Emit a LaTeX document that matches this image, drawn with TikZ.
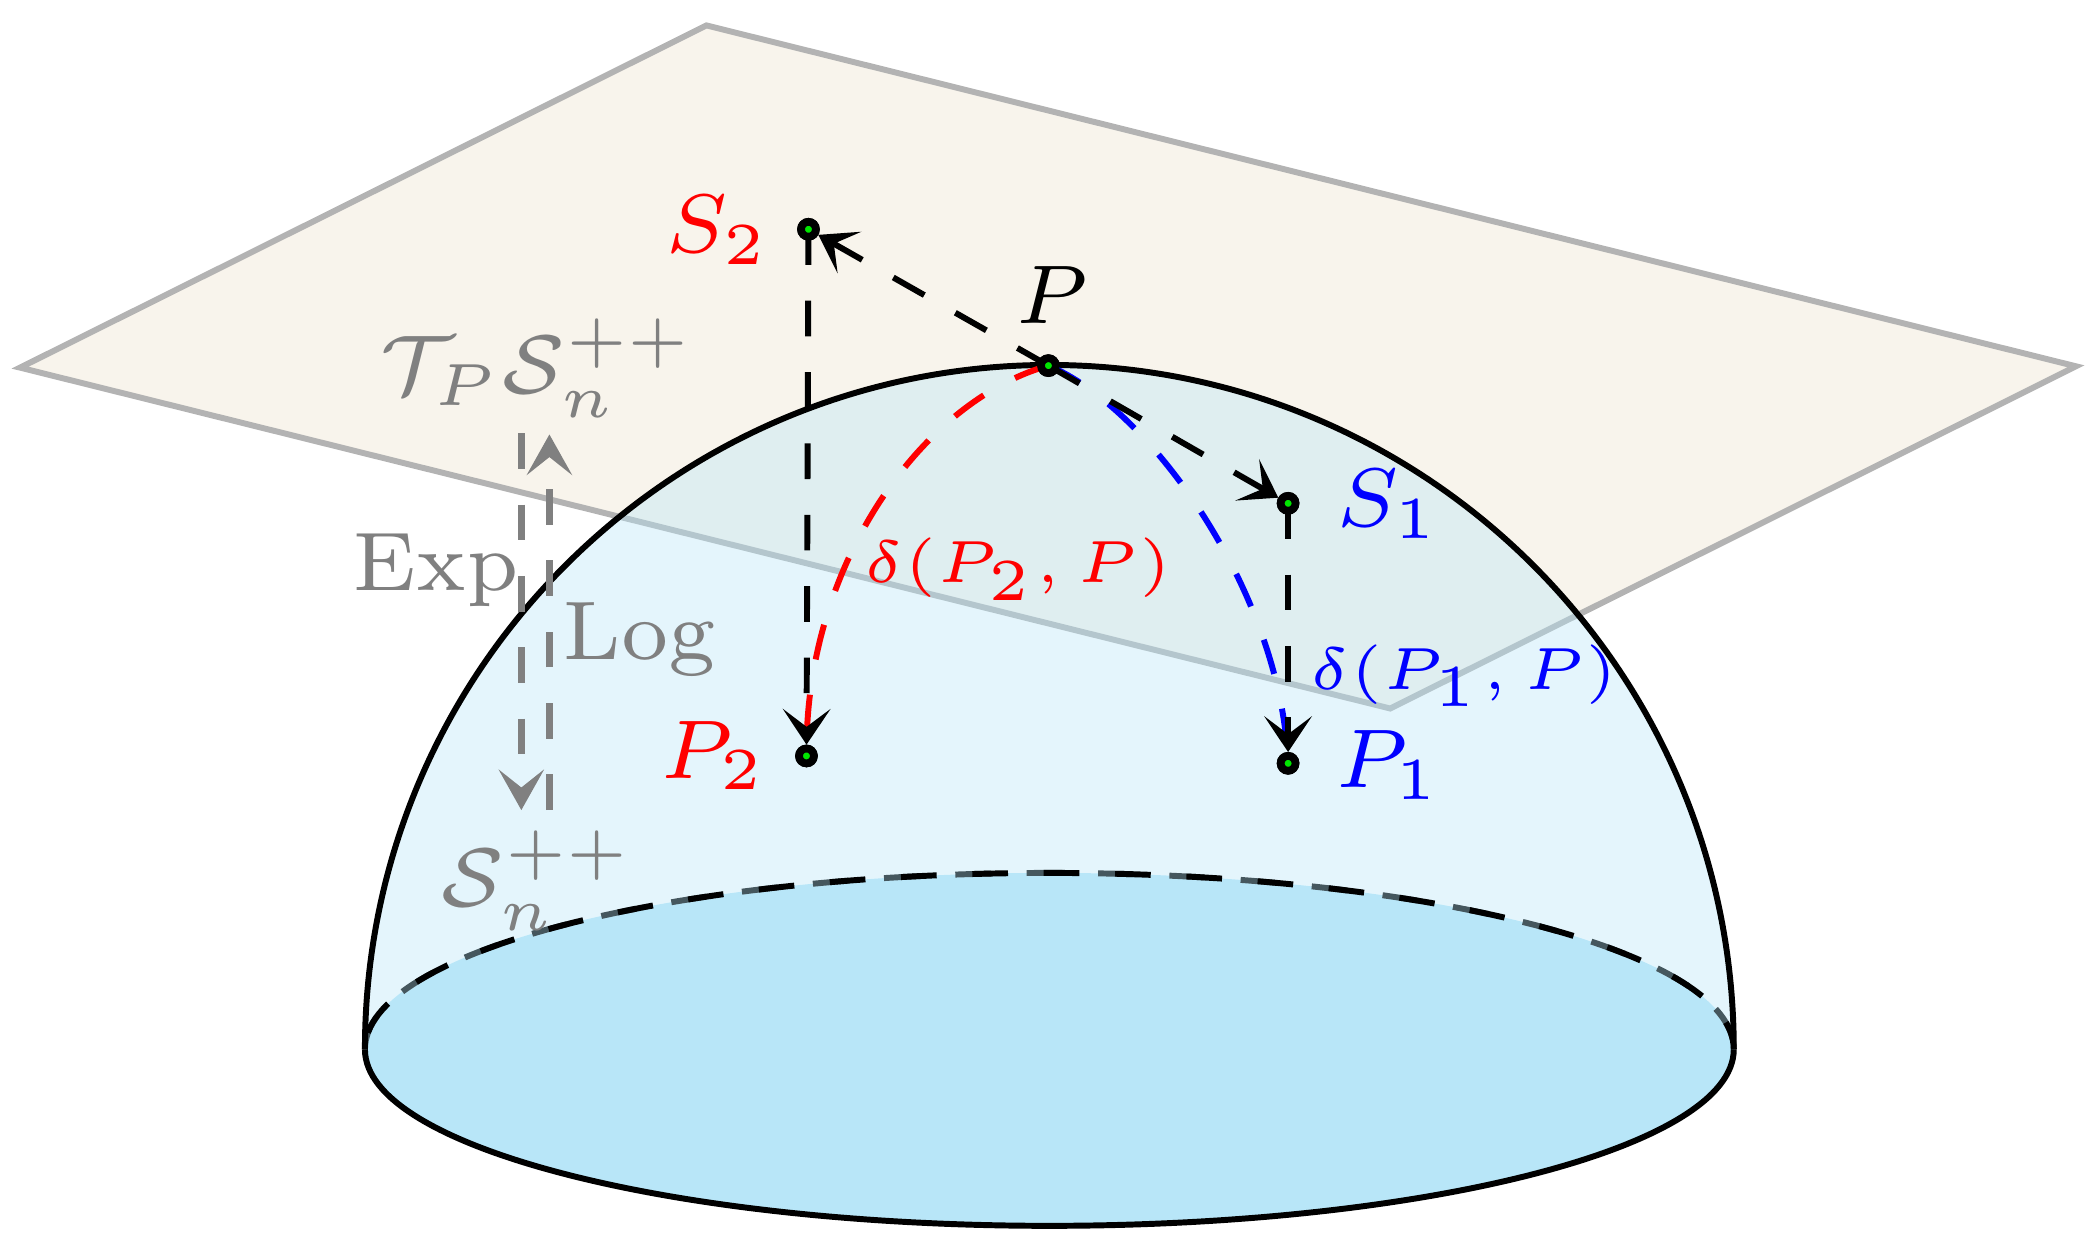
\documentclass[tikz,border=0pt]{standalone}
\usetikzlibrary{arrows.meta}
\definecolor{planefill}{HTML}{F8F4EC}
\definecolor{planeedge}{HTML}{B3B3B3}
\definecolor{domec}{HTML}{B8E6F8}
\definecolor{dotg}{RGB}{0,230,0}
\begin{document}
\begin{tikzpicture}[x=0.11236pt,y=0.11236pt,
  blkdash/.style={line width=0.5pt,dashed,black},
  reddash/.style={line width=0.5pt,dashed,red},
  bluedash/.style={line width=0.5pt,dashed,blue},
  graydash/.style={line width=0.6pt,dashed,gray},
  tipblk/.style={-{Stealth[length=3pt,width=4pt,inset=1.5pt]}},
  tipgray/.style={-{Stealth[length=3.4pt,width=3.8pt,inset=1.5pt]}},
  dotnode/.style={circle,fill=dotg,draw=black,line width=0.65pt,inner sep=0pt,minimum size=1.25pt},
  lab/.style={anchor=base west,inner sep=0pt,font=\scriptsize},
  dlab/.style={anchor=base west,inner sep=0pt,font=\tiny},
  outline/.style={line width=0.5pt,black}]
\useasboundingbox (0,-937.4) rectangle (1568,0);

% tangent plane
\filldraw[fill=planefill,draw=planeedge,line width=0.5pt,line join=miter]
  (528.5,-19) -- (1553,-274) -- (1040,-530) -- (15,-275) -- cycle;

% base ellipse
\fill[domec] (785,-785) ellipse[x radius=512,y radius=132];
\draw[outline,dashed] (273,-785) arc[start angle=180,end angle=0,x radius=512,y radius=132];

% dome (semi-transparent)
\fill[domec,opacity=0.38] (273,-785) arc[start angle=180,end angle=0,radius=512] -- cycle;
\draw[outline,dash pattern=on 3pt off 3pt,dash phase=4.57pt] (273,-785) arc[start angle=180,end angle=0,x radius=512,y radius=132];
\draw[outline] (273,-785) arc[start angle=180,end angle=360,x radius=512,y radius=132];
\draw[outline] (273,-785) arc[start angle=180,end angle=0,radius=512];

% points
\node[dotnode] (P)  at (784.3,-273.5) {};
\node[dotnode] (S2) at (604.8,-171.5) {};
\node[dotnode] (S1) at (963.6,-376.5) {};
\node[dotnode] (P2) at (603.3,-565.5) {};
\node[dotnode] (P1) at (963.6,-571) {};

% geodesics
\draw[reddash] (P.center) .. controls (690,-300) and (605,-420) .. (P2);
\draw[bluedash] (P.center) .. controls (860,-305) and (955,-440) .. (P1);

% log / projections
\draw[blkdash,tipblk] (P.center) -- (S2);
\draw[blkdash,tipblk] (P.center) -- (S1);
\draw[blkdash,tipblk] (S2.center) -- (P2);
\draw[blkdash,tipblk] (S1.center) -- (P1);

% redraw dots on top
\node[dotnode] at (P.center) {};
\node[dotnode] at (S2.center) {};
\node[dotnode] at (S1.center) {};
\node[dotnode] at (P2.center) {};
\node[dotnode] at (P1.center) {};

% Exp / Log arrows
\coordinate (e1) at (390,-324);
\coordinate (e2) at (390,-606);
\coordinate (l1) at (411,-606);
\coordinate (l2) at (411,-325);
\draw[graydash,tipgray] (e1) -- (e2);
\draw[graydash,tipgray] (l1) -- (l2);

% labels
\node[lab] (Pl) at (758,-242) {$P$};
\node[lab,text=red] (S2l) at (496,-189) {$S_2$};
\node[lab,text=blue] (S1l) at (998,-394) {$S_1$};
\node[lab,text=red] (P2l) at (492,-582) {$P_2$};
\node[lab,text=blue] (P1l) at (997,-589) {$P_1$};
\node[dlab,text=red] (d2) at (644,-436) {$\delta(P_2, P)$};
\node[dlab,text=blue] (d1) at (978,-515.5) {$\delta(P_1, P)$};
\node[lab,text=gray] (TS) at (282,-294.7) {$\mathcal{T}_P\mathcal{S}_n^{++}$};
\node[lab,text=gray] (Sn) at (328,-678) {$\mathcal{S}_n^{++}$};
\node[lab,text=gray] (Exp) at (262,-442) {$\mathrm{Exp}$};
\node[lab,text=gray] (Log) at (419,-493) {$\mathrm{Log}$};
\end{tikzpicture}
\end{document}
